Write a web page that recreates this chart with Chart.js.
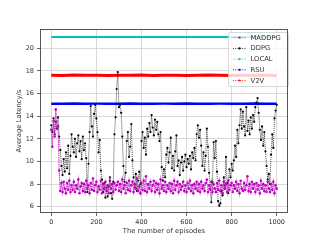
<!DOCTYPE html>
<html>
<head>
<meta charset="utf-8">
<script src="https://cdn.jsdelivr.net/npm/chart.js@4.4.0/dist/chart.umd.min.js"></script>
<style>
  html, body { margin: 0; padding: 0; background: #ffffff; }
  #wrap { width: 320px; height: 240px; }
</style>
</head>
<body>
<div id="wrap"><canvas id="chart" width="320" height="240"></canvas></div>
<script>
// Episodios (eje x) muestreados cada 5
const episodes = [
  0,5,10,15,20,25,30,35,40,45,50,55,60,65,70,75,80,85,90,95,
  100,105,110,115,120,125,130,135,140,145,150,155,160,165,170,175,180,185,190,195,
  200,205,210,215,220,225,230,235,240,245,250,255,260,265,270,275,280,285,290,295,
  300,305,310,315,320,325,330,335,340,345,350,355,360,365,370,375,380,385,390,395,
  400,405,410,415,420,425,430,435,440,445,450,455,460,465,470,475,480,485,490,495,
  500,505,510,515,520,525,530,535,540,545,550,555,560,565,570,575,580,585,590,595,
  600,605,610,615,620,625,630,635,640,645,650,655,660,665,670,675,680,685,690,695,
  700,705,710,715,720,725,730,735,740,745,750,755,760,765,770,775,780,785,790,795,
  800,805,810,815,820,825,830,835,840,845,850,855,860,865,870,875,880,885,890,895,
  900,905,910,915,920,925,930,935,940,945,950,955,960,965,970,975,980,985,990,995,
  1000
];

const maddpg = [
  12.8,11.3,13.6,12.2,14.6,12.9,13.1,9.2,7.4,8.1,
  7.3,8.2,7.6,7.2,8.1,7.5,8.3,7.3,7.9,7.5,
  8.2,7.3,7.9,7.6,8.4,7.2,7.8,8.1,7.4,8.0,
  7.3,8.3,7.6,7.9,7.2,8.1,7.5,8.5,7.4,7.9,
  8.2,7.3,7.8,7.5,8.3,7.2,8.0,7.6,8.2,7.4,
  7.9,7.2,8.3,7.6,8.0,7.3,8.1,7.5,7.9,8.2,
  7.4,8.0,7.3,8.4,7.6,7.9,7.2,8.1,7.5,8.3,
  7.4,7.9,8.2,7.3,8.0,7.6,8.5,7.4,7.8,7.2,
  8.1,7.5,8.3,7.4,8.7,7.3,8.0,7.6,8.2,7.4,
  7.9,8.3,7.3,8.1,7.5,8.0,7.2,8.4,7.6,7.9,
  7.4,8.2,7.3,7.9,7.6,8.1,7.4,8.0,7.2,8.3,
  7.5,7.9,8.2,7.3,8.0,7.5,7.8,8.2,7.4,7.9,
  7.3,8.1,7.6,8.3,7.4,7.9,7.2,8.0,7.6,8.2,
  7.4,8.0,7.3,8.2,7.6,7.9,7.4,8.1,8.4,7.3,
  7.9,7.5,8.2,7.3,8.0,7.6,7.3,8.1,7.5,8.3,
  7.4,7.9,7.2,8.2,7.6,8.0,7.3,8.3,7.5,7.9,
  8.1,7.3,7.9,7.6,8.2,7.4,8.0,7.2,8.3,7.6,
  7.4,8.1,7.5,7.9,8.7,7.4,8.0,7.3,8.2,7.6,
  8.0,7.3,8.1,7.5,7.9,7.2,8.3,7.6,8.0,7.4,
  7.9,7.3,8.2,7.6,7.3,8.0,7.5,8.2,7.2,7.9,
  7.6
];

const ddpg = [
  13.2,12.6,13.8,12.4,13.5,12.9,13.9,12.2,11.0,9.6,
  8.8,10.2,9.1,10.8,9.4,11.4,8.9,10.5,12.4,11.3,
  10.8,12.0,10.4,11.6,12.3,10.9,11.8,10.2,12.2,11.0,
  11.6,10.3,7.3,9.8,12.6,14.9,13.1,12.2,14.2,15.0,
  13.8,12.6,10.8,11.9,9.2,8.4,7.3,8.1,6.8,7.7,
  6.9,7.8,8.6,7.2,6.7,8.2,12.4,13.9,16.4,17.9,
  14.8,15.0,14.3,12.2,9.6,8.2,9.0,11.8,12.6,10.4,
  11.3,13.3,10.1,8.6,7.7,8.9,7.4,8.3,9.1,8.0,
  11.8,12.6,11.2,12.1,10.6,12.9,12.2,13.4,12.6,14.1,
  13.0,12.3,13.7,12.8,13.5,12.4,11.8,12.6,9.5,8.3,
  9.3,8.6,10.6,11.2,9.9,10.8,12.1,9.4,10.5,9.2,
  10.9,12.3,9.6,10.1,8.8,9.9,10.4,9.2,10.0,10.6,
  9.5,10.2,9.8,10.5,9.3,10.8,10.3,11.2,10.1,12.4,
  13.2,12.1,12.8,11.4,9.6,10.8,9.2,10.5,12.9,11.3,
  9.0,7.6,6.4,8.2,11.7,10.3,11.8,9.1,6.5,6.1,
  6.3,7.4,7.0,8.6,7.8,10.4,8.1,7.2,9.3,8.6,
  9.8,9.2,10.1,11.4,10.4,12.8,11.6,13.2,14.6,12.9,
  14.4,13.1,12.3,14.8,12.7,13.6,12.4,13.9,12.9,14.1,
  13.5,14.8,15.2,15.6,14.3,12.8,11.9,13.1,11.4,12.6,
  10.9,9.6,8.4,8.9,8.0,10.6,12.4,11.2,13.8,14.5,
  15.0
];

// Las tres lineas casi constantes
const flatEpisodes = [0,50,100,150,200,250,300,350,400,450,500,550,600,650,700,750,800,850,900,950,1000];
const local = [21.0,21.0,21.0,21.0,21.0,21.0,21.0,21.0,21.0,21.0,21.0,21.0,21.0,21.0,21.0,21.0,21.0,21.0,21.0,21.0,21.0];
const rsu   = [15.1,15.1,15.12,15.1,15.11,15.1,15.1,15.12,15.1,15.1,15.11,15.1,15.12,15.1,15.1,15.11,15.1,15.1,15.12,15.1,15.1];
const v2v   = [17.62,17.6,17.63,17.61,17.62,17.6,17.62,17.61,17.63,17.6,17.62,17.61,17.6,17.62,17.63,17.61,17.6,17.62,17.61,17.62,17.6];

const xTicks = [0,200,400,600,800,1000];
const yTicks = [6,8,10,12,14,16,18,20];

const seriesNames = ['MADDPG','DDPG','LOCAL','RSU','V2V'];
const seriesColors = ['#bf00bf','#000000','#00bfbf','#0000ff','#ff0000'];

const FONT = 'DejaVu Sans';
Chart.defaults.font.family = FONT;
Chart.defaults.color = '#333333';

function pts(xs, ys) {
  return xs.map((x, i) => ({ x: x, y: ys[i] }));
}

// Leyenda dentro del area del grafico, estilo matplotlib
const insideLegend = {
  id: 'insideLegend',
  afterDatasetsDraw(chart) {
    const ctx = chart.ctx;
    const a = chart.chartArea;
    const x0 = 228, y0 = 32, w = a.right - 228 + 1, h = 54;
    ctx.save();
    ctx.fillStyle = 'rgba(255,255,255,0.8)';
    ctx.strokeStyle = 'rgba(200,200,200,0.9)';
    ctx.lineWidth = 0.8;
    ctx.beginPath();
    ctx.roundRect(x0 + 0.5, y0 + 0.5, w - 1, h, 1.5);
    ctx.fill();
    ctx.stroke();
    ctx.font = '6.8px ' + FONT;
    ctx.textBaseline = 'middle';
    ctx.textAlign = 'left';
    seriesNames.forEach((name, i) => {
      const yy = 37.7 + i * 10.7;
      ctx.strokeStyle = seriesColors[i];
      ctx.lineWidth = 0.8;
      ctx.setLineDash([1, 1.3]);
      ctx.beginPath();
      ctx.moveTo(233, yy);
      ctx.lineTo(246, yy);
      ctx.stroke();
      ctx.setLineDash([]);
      ctx.fillStyle = seriesColors[i];
      ctx.beginPath();
      ctx.arc(239.5, yy, 1.1, 0, Math.PI * 2);
      ctx.fill();
      ctx.fillStyle = '#333333';
      ctx.fillText(name, 250.5, yy + 0.3);
    });
    ctx.restore();
  },
  afterDraw(chart) {
    // los cuatro bordes del eje
    const ctx = chart.ctx;
    const a = chart.chartArea;
    ctx.save();
    ctx.strokeStyle = '#444444';
    ctx.lineWidth = 0.9;
    ctx.strokeRect(Math.round(a.left) + 0.5, Math.round(a.top) + 0.5,
      Math.round(a.right - a.left) - 1, Math.round(a.bottom - a.top) - 1);
    ctx.restore();
  }
};

new Chart(document.getElementById('chart').getContext('2d'), {
  type: 'line',
  data: {
    datasets: [
      { label: 'V2V', data: pts(flatEpisodes, v2v), borderColor: seriesColors[4], borderWidth: 3, pointRadius: 0, order: 5 },
      { label: 'RSU', data: pts(flatEpisodes, rsu), borderColor: seriesColors[3], borderWidth: 2.4, pointRadius: 0, order: 4 },
      { label: 'LOCAL', data: pts(flatEpisodes, local), borderColor: seriesColors[2], borderWidth: 2, pointRadius: 0, order: 3 },
      { label: 'DDPG', data: pts(episodes, ddpg), borderColor: 'rgba(0,0,0,0.75)', backgroundColor: seriesColors[1],
        borderWidth: 0.8, borderDash: [1.2, 0.8], pointRadius: 1.1, pointBorderWidth: 0, order: 2 },
      { label: 'MADDPG', data: pts(episodes, maddpg), borderColor: 'rgba(200,40,200,0.85)', backgroundColor: seriesColors[0],
        borderWidth: 1.1, borderDash: [1.6, 0.6], pointRadius: 1.3, pointBorderWidth: 0, order: 1 }
    ]
  },
  options: {
    responsive: false,
    animation: false,
    devicePixelRatio: 1,
    layout: { padding: { left: 0, top: 29, right: 32, bottom: 0 } },
    plugins: { legend: { display: false }, tooltip: { enabled: false } },
    scales: {
      x: {
        type: 'linear',
        min: -50,
        max: 1050,
        afterFit: s => { s.height = 27; },
        afterBuildTicks: s => { s.ticks = xTicks.map(v => ({ value: v })); },
        grid: { color: '#cfcfcf', lineWidth: 0.8, tickColor: '#444444', tickLength: 3 },
        border: { display: false },
        ticks: { font: { size: 6.5 }, padding: 2, maxRotation: 0, callback: v => String(v) },
        title: { display: true, text: 'The number of episodes', font: { size: 6.8 }, padding: { top: 0, bottom: 5 } }
      },
      y: {
        type: 'linear',
        min: 5.45,
        max: 21.7,
        afterFit: s => { s.width = 40; },
        afterBuildTicks: s => { s.ticks = yTicks.map(v => ({ value: v })); },
        grid: { color: '#cfcfcf', lineWidth: 0.8, tickColor: '#444444', tickLength: 3 },
        border: { display: false },
        ticks: { font: { size: 6.5 }, padding: 3, callback: v => String(v) },
        title: { display: true, text: 'Average Latency/s', font: { size: 6.8 }, padding: { top: 15, bottom: 0 } }
      }
    }
  },
  plugins: [insideLegend]
});
</script>
</body>
</html>
